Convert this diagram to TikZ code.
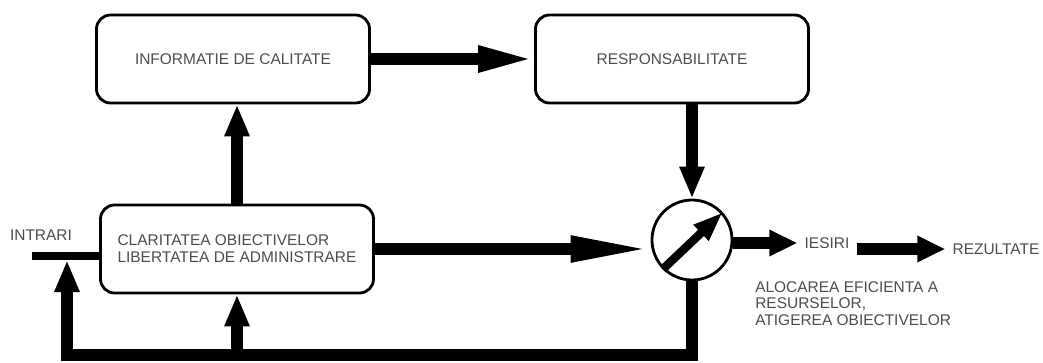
\documentclass[tikz,border=0pt]{standalone}
\usepackage{fontspec}
\setmainfont{Liberation Sans}
\usetikzlibrary{arrows.meta}
\begin{document}
\begin{tikzpicture}[
  x=0.025cm, y=-0.025cm,
  font=\fontsize{11}{12}\selectfont,
  box/.style={draw,rounded corners=10pt,line width=2pt,
    minimum width=6.825cm,minimum height=2.2cm,text=black!70},
  lbl/.style={text=black!70,inner sep=5pt},
  flow/.style={line width=8pt},
  longtip/.style={flow,-{Triangle[length=1.4cm,width=0.6cm]}},
  midtip/.style={flow,-{Triangle[length=0.7cm,width=0.62cm]}},
  shorttip/.style={flow,-{Triangle[length=0.8cm,width=0.58cm]}}]
\useasboundingbox (0,0) rectangle (1043,362);
\node[box] (info) at (233,59) {INFORMATIE DE CALITATE};
\node[box] (resp) at (672,59) {RESPONSABILITATE};
\node[box,align=left] (clar) at (237,249)
  {CLARITATEA OBIECTIVELOR\\LIBERTATEA DE ADMINISTRARE};
\node[circle,draw,line width=2pt,minimum size=2cm] (sw) at (692,240) {};
\node[lbl] (intrari) at (41,235) {INTRARI};
\node[lbl] (iesiri) at (827,243) {IESIRI};
\node[lbl] (rez) at (996,249) {REZULTATE};
\node[lbl,anchor=north west,align=left,inner sep=0pt] (aloc) at (755,281)
  {ALOCAREA EFICIENTA A\\RESURSELOR,\\ATIGEREA OBIECTIVELOR};
\coordinate (in) at (32,256);
\coordinate (join) at (67,260);
\coordinate (fb) at (67,355);
% flows
\draw[longtip] (info.east) -- (resp.west);
\draw[shorttip] (clar.north) -- (clar.north |- info.south);
\draw[shorttip] (sw |- resp.south) -- (sw.north);
\draw[flow,-{Triangle[length=2cm,width=0.6cm]}] (clar.east) -- (clar.east -| sw.west);
\draw[flow,line width=6pt,-{Triangle[length=0.75cm,width=0.5cm]}] (sw.225) -- (sw.42);
\draw[midtip] (sw.east |- iesiri) -- (iesiri.west);
\draw[midtip] (iesiri.east |- rez.west) -- (rez.west);
% input and feedback
\draw[flow,line width=6pt] (in) -- (in -| clar.west);
\draw[shorttip] (sw.south) |- (fb) -- (join);
\draw[shorttip] (fb -| clar.south) -- (clar.south);
\end{tikzpicture}
\end{document}
